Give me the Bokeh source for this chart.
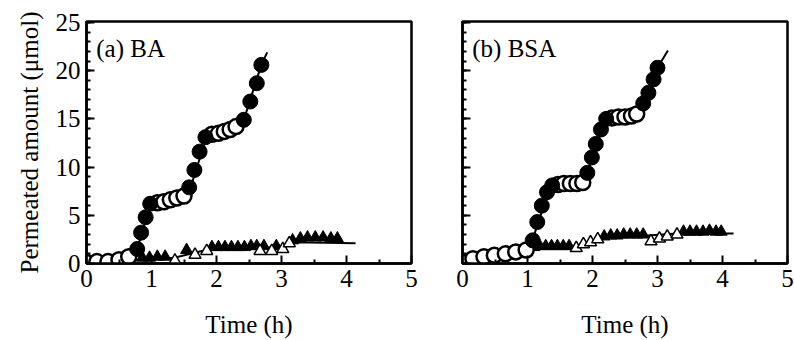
from bokeh.plotting import figure
from bokeh.layouts import row
from bokeh.models import Label, FixedTicker
from bokeh.embed import file_html
from bokeh.resources import INLINE

# ---------------- data ----------------
x_ticks = [0, 1, 2, 3, 4, 5]
y_ticks = [0, 5, 10, 15, 20, 25]

# Panel (a) BA : circles (filled = rising phase, open = plateau)
a_open_t = [0.0, 0.16, 0.33, 0.50, 0.65, 1.09, 1.19, 1.29, 1.39, 1.50, 1.93, 2.03, 2.12, 2.21, 2.30]
a_open_y = [0.1, 0.2, 0.2, 0.4, 0.7, 6.3, 6.4, 6.6, 6.8, 7.0, 13.4, 13.5, 13.7, 13.9, 14.2]
a_fill_t = [0.78, 0.84, 0.91, 0.98, 1.58, 1.66, 1.74, 1.83, 2.42, 2.52, 2.62, 2.69]
a_fill_y = [1.5, 3.2, 4.8, 6.2, 7.9, 9.7, 11.6, 13.1, 14.9, 16.8, 18.7, 20.6]
a_fit_t = [0.0, 0.5, 0.7, 0.78, 0.98, 1.05, 1.55, 1.62, 1.85, 1.92, 2.35, 2.42, 2.69, 2.78]
a_fit_y = [0.0, 0.3, 0.8, 1.5, 6.1, 6.3, 7.2, 8.3, 13.2, 13.4, 14.4, 14.9, 20.6, 21.9]
# Panel (a) triangles
a_tri_fill_t = [0.86, 0.97, 1.09, 1.21, 1.54, 1.93, 2.03, 2.13, 2.23, 2.33, 2.43, 2.53, 2.62, 2.73, 2.92,
                3.17, 3.29, 3.40, 3.52, 3.64, 3.76, 3.86]
a_tri_fill_y = [0.6, 0.6, 0.7, 0.7, 1.4, 1.7, 1.7, 1.7, 1.7, 1.7, 1.7, 1.8, 1.8, 1.8, 1.8,
                2.4, 2.6, 2.7, 2.7, 2.7, 2.6, 2.6]
a_tri_open_t = [1.36, 1.67, 1.85, 2.67, 2.85, 3.02, 3.12]
a_tri_open_y = [0.3, 0.9, 1.3, 1.3, 1.3, 1.5, 2.1]
a_tri_fit_t = [0.8, 1.35, 1.9, 3.05, 3.2, 4.14]
a_tri_fit_y = [0.5, 0.6, 1.5, 1.7, 2.2, 2.1]

# Panel (b) BSA : circles
b_open_t = [0.0, 0.16, 0.33, 0.49, 0.66, 0.82, 0.98, 1.47, 1.56, 1.66, 1.76, 1.85, 2.30, 2.40, 2.50, 2.60, 2.68]
b_open_y = [0.1, 0.5, 0.7, 0.85, 1.0, 1.2, 1.4, 8.2, 8.3, 8.3, 8.3, 8.4, 15.1, 15.2, 15.2, 15.3, 15.5]
b_fill_t = [1.08, 1.15, 1.22, 1.30, 1.38, 1.92, 1.99, 2.05, 2.13, 2.21, 2.78, 2.86, 2.94, 3.00]
b_fill_y = [2.4, 4.3, 6.0, 7.4, 8.1, 9.4, 11.0, 12.4, 13.9, 15.0, 16.6, 17.7, 19.1, 20.3]
b_fit_t = [0.0, 0.3, 0.98, 1.05, 1.35, 1.45, 1.85, 1.92, 2.2, 2.3, 2.7, 2.78, 3.0, 3.16]
b_fit_y = [0.0, 0.6, 1.4, 1.9, 8.0, 8.2, 8.4, 9.4, 15.0, 15.1, 15.5, 16.6, 20.3, 22.1]
# Panel (b) triangles
b_tri_fill_t = [1.10, 1.19, 1.28, 1.37, 1.46, 1.55, 1.64, 2.18, 2.28, 2.38, 2.48, 2.58, 2.68, 2.78,
                3.40, 3.50, 3.60, 3.70, 3.80, 3.90, 3.98]
b_tri_fill_y = [1.7, 1.8, 1.8, 1.8, 1.8, 1.8, 1.8, 2.8, 2.9, 2.9, 3.0, 3.0, 3.0, 3.0,
                3.3, 3.3, 3.3, 3.3, 3.4, 3.3, 3.3]
b_tri_open_t = [1.75, 1.86, 1.97, 2.08, 2.90, 3.03, 3.15, 3.30]
b_tri_open_y = [1.6, 2.0, 2.2, 2.5, 2.3, 2.6, 2.8, 3.0]
b_tri_fit_t = [1.05, 1.7, 2.1, 2.85, 3.3, 4.17]
b_tri_fit_y = [1.5, 1.7, 2.6, 2.9, 3.1, 3.1]

SERIF = "'Liberation Serif', 'Times New Roman', serif"


def make_panel(title, width, bl, br, bt, bb, show_ylabels,
               ot, oy, ft, fy, fit_t, fit_y, tft, tfy, tot, toy, tfit_t, tfit_y):
    p = figure(width=width, height=340, x_range=(0, 5), y_range=(0, 25.1),
               output_backend="svg", toolbar_location=None,
               min_border_left=bl, min_border_right=br,
               min_border_top=bt, min_border_bottom=bb)
    p.grid.visible = False
    p.background_fill_color = "white"
    p.border_fill_color = "white"
    p.outline_line_color = "black"
    p.outline_line_width = 2.5

    p.xaxis.ticker = FixedTicker(ticks=x_ticks, minor_ticks=[0.5, 1.5, 2.5, 3.5, 4.5])
    p.yaxis.ticker = FixedTicker(ticks=y_ticks, minor_ticks=list(range(0, 26)))
    for ax in (p.xaxis, p.yaxis):
        ax.axis_line_width = 2.5
        ax.axis_line_color = "black"
        ax.major_tick_in = 8
        ax.major_tick_out = 0
        ax.minor_tick_in = 4
        ax.minor_tick_out = 0
        ax.major_tick_line_width = 2
        ax.minor_tick_line_width = 2
        ax.major_label_text_font = SERIF
        ax.major_label_text_font_style = "normal"
        ax.major_label_text_font_size = "25px"
        ax.major_label_text_color = "black"
        ax.axis_label_text_font = SERIF
        ax.axis_label_text_font_style = "normal"
        ax.axis_label_text_font_size = "25px"
        ax.axis_label_text_color = "black"
    p.xaxis.major_label_standoff = 6
    p.yaxis.major_label_standoff = 6
    p.xaxis.axis_label = "Time (h)"
    p.xaxis.axis_label_standoff = 21
    if show_ylabels:
        p.yaxis.axis_label = "Permeated amount (μmol)"
        p.yaxis.axis_label_standoff = 10
    else:
        p.yaxis.major_label_overrides = {v: "" for v in y_ticks}

    # fitted lines
    p.line(fit_t, fit_y, line_color="black", line_width=2)
    p.line(tfit_t, tfit_y, line_color="black", line_width=2)
    # triangles
    p.scatter(tft, tfy, marker="triangle", size=12, fill_color="black", line_color="black", line_width=1)
    p.scatter(tot, toy, marker="triangle", size=12, fill_color="white", line_color="black", line_width=1.5)
    # circles
    p.scatter(ot, oy, marker="circle", size=15, fill_color="white", line_color="black", line_width=2.5)
    p.scatter(ft, fy, marker="circle", size=15, fill_color="black", line_color="black", line_width=1)

    p.add_layout(Label(x=0.15, y=22.3, text=title, text_font=SERIF, text_font_size="25px",
                       text_font_style="normal", text_color="black", text_baseline="alphabetic"))
    return p


pa = make_panel("(a) BA", 430, 86, 19, 20, 77, True,
                a_open_t, a_open_y, a_fill_t, a_fill_y, a_fit_t, a_fit_y,
                a_tri_fill_t, a_tri_fill_y, a_tri_open_t, a_tri_open_y, a_tri_fit_t, a_tri_fit_y)
pb = make_panel("(b) BSA", 364, 32, 7, 21, 75, False,
                b_open_t, b_open_y, b_fill_t, b_fill_y, b_fit_t, b_fit_y,
                b_tri_fill_t, b_tri_fill_y, b_tri_open_t, b_tri_open_y, b_tri_fit_t, b_tri_fit_y)

layout = row(pa, pb)
open("out.html", "w").write(file_html(layout, INLINE))
